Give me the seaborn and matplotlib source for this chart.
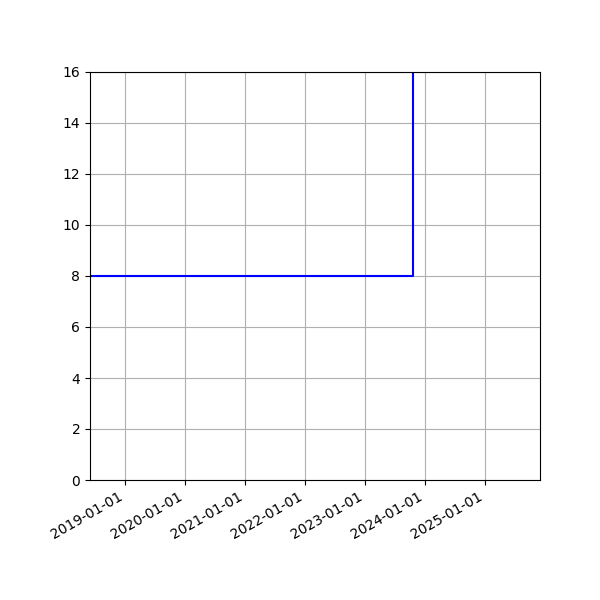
import matplotlib
matplotlib.use("Agg")
import matplotlib.pyplot as plt
import matplotlib.dates as mdates
import seaborn as sns
import pandas as pd

dates = ["2018-06-01", "2023-10-20", "2023-10-20"]
values = [8, 8, 16]

df = pd.DataFrame({"date": pd.to_datetime(dates), "value": values})

fig = plt.figure(figsize=(6, 6), dpi=100)
ax = fig.add_axes([0.15, 0.2, 0.75, 0.68])
sns.lineplot(data=df, x="date", y="value", ax=ax, color="blue",
             drawstyle="steps-post", sort=False, estimator=None)
ax.set_ylim(0, 16)
ax.set_xlim(pd.Timestamp("2018-06-01"), pd.Timestamp("2025-12-01"))
ax.xaxis.set_major_locator(mdates.YearLocator())
ax.xaxis.set_major_formatter(mdates.DateFormatter("%Y-%m-%d"))
ax.grid(True)
ax.set_xlabel("")
ax.set_ylabel("")
for lbl in ax.get_xticklabels():
    lbl.set_rotation(30)
    lbl.set_ha("right")
fig.savefig("out.png", dpi=100)
